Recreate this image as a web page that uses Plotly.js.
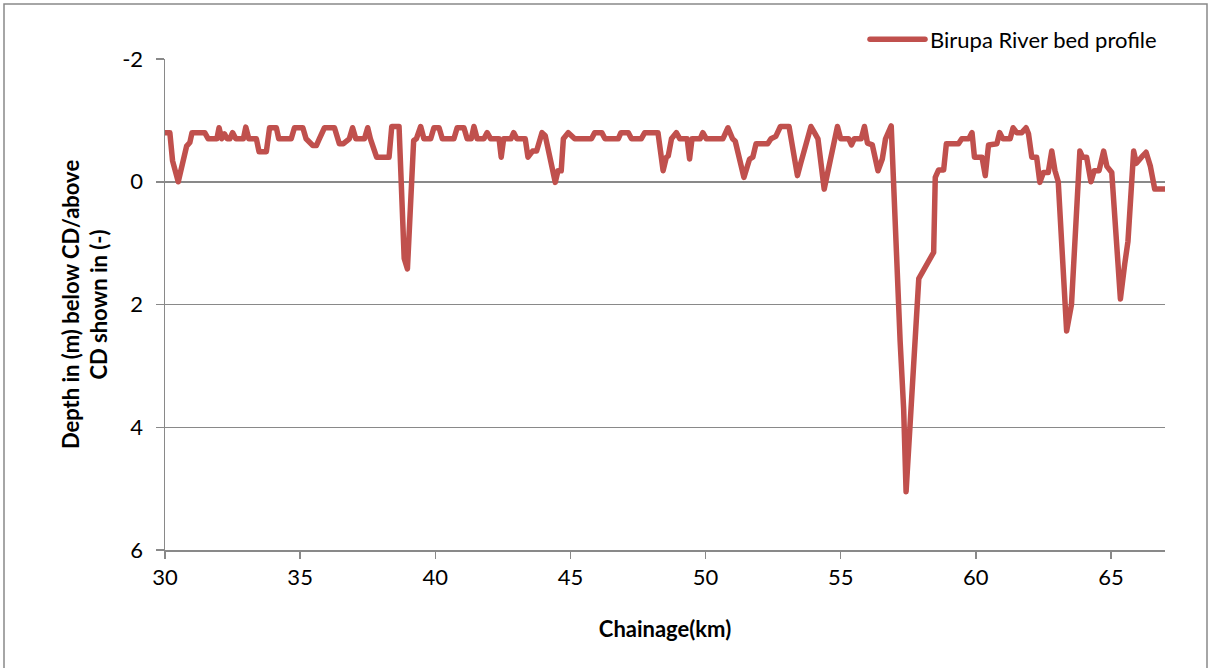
<!DOCTYPE html>
<html>
<head>
<meta charset="utf-8">
<script src="https://cdn.plot.ly/plotly-3.0.1.min.js"></script>
<style>html,body{margin:0;padding:0;background:#fff}#chart{width:1208px;height:668px}
#chart .scatterlayer path.js-line{stroke-linejoin:round;stroke-linecap:round}
#chart .legend path.js-line{stroke-linecap:round}</style>
</head>
<body>
<div id="chart"></div>
<script>
var seriesName = "Birupa River bed profile";
var chainage = [
30.00,30.18,30.28,30.49,30.80,30.92,31.00,31.47,31.60,31.92,32.00,32.10,32.20,32.30,32.40,32.50,32.62,32.90,32.99,33.10,
33.38,33.48,33.75,33.87,34.12,34.21,34.67,34.79,35.10,35.22,35.47,35.60,35.71,35.90,36.27,36.37,36.45,36.60,36.82,36.94,
37.06,37.38,37.50,37.60,37.83,38.29,38.39,38.66,38.85,38.97,39.20,39.30,39.46,39.58,39.83,39.95,40.14,40.26,40.69,40.81,
41.06,41.18,41.33,41.43,41.55,41.80,41.92,42.05,42.36,42.44,42.53,42.80,42.90,43.02,43.33,43.43,43.52,43.60,43.75,43.95,
44.07,44.44,44.54,44.66,44.74,44.92,45.16,45.78,45.90,46.16,46.28,46.77,46.87,47.14,47.26,47.62,47.75,48.24,48.43,48.55,
48.62,48.74,48.92,49.05,49.32,49.41,49.50,49.80,49.90,50.03,50.64,50.83,51.00,51.10,51.42,51.63,51.75,51.87,52.30,52.42,
52.60,52.77,53.09,53.28,53.40,53.52,53.90,54.03,54.16,54.39,54.54,54.88,55.00,55.30,55.40,55.50,55.76,55.88,55.99,56.17,
56.38,56.54,56.66,56.87,57.20,57.33,57.42,57.65,57.89,58.44,58.50,58.62,58.81,58.91,59.36,59.48,59.74,59.86,59.95,60.23,
60.35,60.47,60.78,60.88,61.00,61.27,61.38,61.51,61.70,61.86,61.95,62.07,62.25,62.37,62.50,62.68,62.81,62.93,63.05,63.36,
63.54,63.85,63.95,64.10,64.26,64.38,64.56,64.73,64.85,65.03,65.35,65.51,65.63,65.84,65.94,66.13,66.30,66.46,66.56,66.62,
67.00
];
var depth = [
-0.80,-0.80,-0.34,0.00,-0.58,-0.64,-0.80,-0.80,-0.70,-0.70,-0.88,-0.70,-0.78,-0.70,-0.70,-0.80,-0.70,-0.70,-0.89,-0.70,
-0.70,-0.49,-0.49,-0.88,-0.88,-0.70,-0.70,-0.88,-0.88,-0.70,-0.59,-0.59,-0.70,-0.88,-0.88,-0.70,-0.62,-0.62,-0.70,-0.88,
-0.70,-0.70,-0.88,-0.70,-0.40,-0.40,-0.90,-0.90,1.25,1.42,-0.67,-0.70,-0.90,-0.70,-0.70,-0.88,-0.88,-0.70,-0.70,-0.88,
-0.88,-0.70,-0.70,-0.90,-0.70,-0.70,-0.80,-0.70,-0.70,-0.40,-0.70,-0.70,-0.80,-0.70,-0.70,-0.40,-0.45,-0.50,-0.50,-0.80,
-0.75,0.01,-0.18,-0.18,-0.70,-0.80,-0.70,-0.70,-0.80,-0.80,-0.70,-0.70,-0.80,-0.80,-0.70,-0.70,-0.80,-0.80,-0.18,-0.40,
-0.42,-0.70,-0.80,-0.70,-0.70,-0.37,-0.70,-0.70,-0.80,-0.70,-0.70,-0.88,-0.70,-0.66,-0.07,-0.37,-0.40,-0.62,-0.62,-0.70,
-0.74,-0.90,-0.90,-0.40,-0.10,-0.30,-0.90,-0.80,-0.70,0.12,-0.18,-0.90,-0.70,-0.70,-0.60,-0.70,-0.70,-0.90,-0.63,-0.60,
-0.18,-0.37,-0.70,-0.91,2.60,3.70,5.05,3.46,1.58,1.15,-0.07,-0.19,-0.19,-0.62,-0.62,-0.70,-0.70,-0.80,-0.40,-0.40,
-0.10,-0.60,-0.62,-0.80,-0.70,-0.70,-0.88,-0.80,-0.80,-0.88,-0.78,-0.40,-0.40,0.01,-0.15,-0.15,-0.50,-0.18,0.00,2.43,
2.00,-0.50,-0.40,-0.40,0.00,-0.18,-0.18,-0.50,-0.25,-0.15,1.91,1.34,0.97,-0.50,-0.30,-0.40,-0.48,-0.25,0.04,0.12,
0.12
];
var yTicks = [-2, 0, 2, 4, 6];
var yTickText = ["-2", "0", "2", "4", "6"];
var xTicks = [30, 35, 40, 45, 50, 55, 60, 65];
var xTickText = ["30", "35", "40", "45", "50", "55", "60", "65"];

var FONT = "Lato, 'Liberation Sans', sans-serif";
var grey = "#898989";

var trace = {
  x: chainage, y: depth, type: "scatter", mode: "lines", name: seriesName,
  line: {color: "#C0504D", width: 5.5, shape: "linear"},
  hoverinfo: "x+y"
};

var layout = {
  width: 1208, height: 668,
  margin: {l: 165, r: 43, t: 59, b: 118, pad: 0},
  paper_bgcolor: "#ffffff", plot_bgcolor: "#ffffff",
  font: {family: FONT, size: 22, color: "#000000"},
  showlegend: true,
  legend: {x: 0.997, xanchor: "right", y: 1.04, yanchor: "middle", orientation: "h",
           font: {family: FONT, size: 22, color: "#000"}, itemwidth: 55, bgcolor: "rgba(0,0,0,0)"},
  xaxis: {
    range: [30, 67], tickmode: "array", tickvals: xTicks, ticktext: xTickText,
    showgrid: false, zeroline: false, showline: true, linecolor: grey, linewidth: 1.5,
    ticks: "outside", ticklen: 7, tickcolor: grey, tickwidth: 1.5,
    tickfont: {family: FONT, size: 22, color: "#000"},
    title: {text: "Chainage(km)", font: {family: FONT, size: 22, color: "#000", weight: "bold"}, standoff: 32}
  },
  yaxis: {
    range: [6, -2], tickmode: "array", tickvals: yTicks, ticktext: yTickText,
    showgrid: true, gridcolor: grey, gridwidth: 1.5, zeroline: false,
    showline: true, linecolor: grey, linewidth: 1.5,
    ticks: "outside", ticklen: 8, tickcolor: grey, tickwidth: 1.5,
    ticklabelstandoff: 8,
    tickfont: {family: FONT, size: 22, color: "#000"},
    title: {text: "Depth in (m) below CD/above<br>CD shown in (-)", font: {family: FONT, size: 22, color: "#000", weight: "bold"}, standoff: 8}
  },
  shapes: [{type: "rect", xref: "paper", yref: "paper", x0: -0.161, x1: 1.042, y0: -0.4, y1: 1.112,
            line: {color: grey, width: 1.5}, fillcolor: "rgba(0,0,0,0)", layer: "below"}]
};

Plotly.newPlot("chart", [trace], layout, {displayModeBar: false, staticPlot: true});
</script>
</body>
</html>
